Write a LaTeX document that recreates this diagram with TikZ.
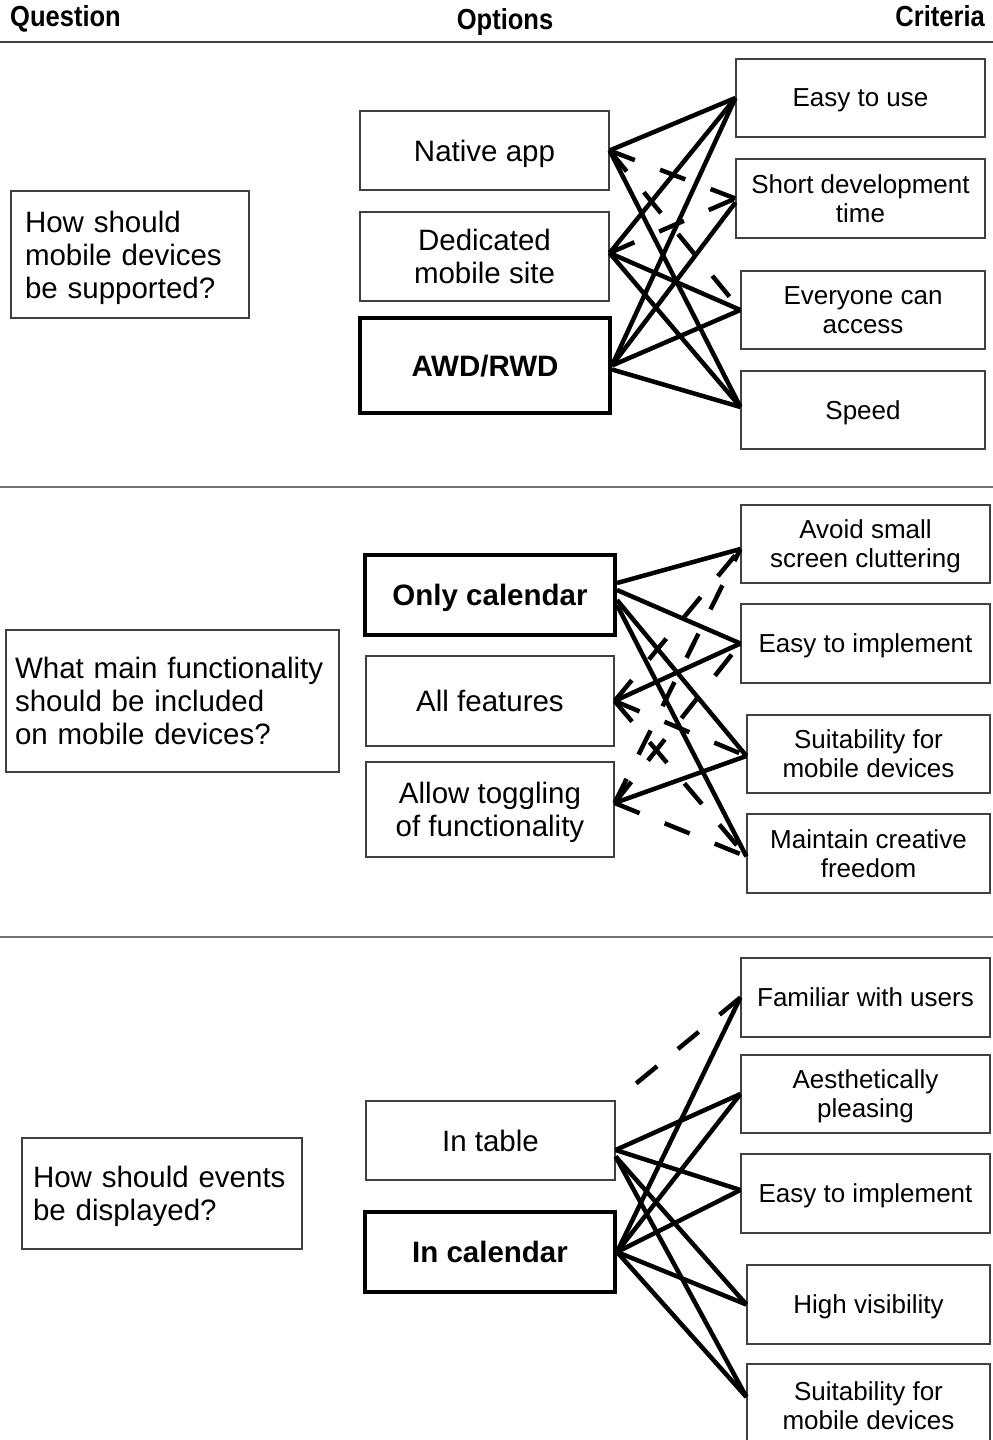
\documentclass[tikz,border=0pt]{standalone}
\usepackage{fontspec}
\usepackage{graphicx}
\setmainfont{Liberation Sans}
\begin{document}
\begin{tikzpicture}[x=1pt,y=-1pt,
  frame/.style={draw=black!75, line width=1.2pt, inner sep=0pt,
    font=\fontsize{29.5}{33}\selectfont},
  box/.style={frame, align=center, text depth=0pt},
  crit/.style={box, font=\fontsize{26}{29}\selectfont},
  pick/.style={box, draw=black, line width=4pt, font=\fontsize{29.5}{33}\selectfont\bfseries},
  quest/.style={frame, align=left},
  head/.style={inner sep=0pt, font=\fontsize{29}{33}\selectfont\bfseries},
  rule/.style={line width=1.2pt, draw=black!55},
  pluslink/.style={line width=4.5pt},
  minuslink/.style={line width=4.5pt, dash pattern=on 27pt off 27pt}
]
\useasboundingbox (0,0) rectangle (993,1440);

% column headings and section rules
\node[head, anchor=base west] (hq) at (10,26) {\scalebox{0.88}[1]{Question}};
\node[head, anchor=base] (ho) at (505,29) {\scalebox{0.88}[1]{Options}};
\node[head, anchor=base east] (hc) at (985,26) {\scalebox{0.88}[1]{Criteria}};
\draw[line width=1.4pt, black!75] (0,42) -- (993,42);
\draw[rule] (0,487) -- (993,487);
\draw[rule] (0,937) -- (993,937);

% ---------- first question ----------
\node[quest, inner xsep=14pt, text width=210pt, minimum height=127pt] (q1) at (130,254.5)
  {How should\\mobile devices\\be \smash{supported?}};
\node[box, minimum width=249pt, minimum height=79pt] (nat) at (484.5,150.5) {Native app};
\node[box, minimum width=249pt, minimum height=89pt] (ded) at (484.5,256.5) {Dedicated\\mobile site};
\node[pick, minimum width=250pt, minimum height=95pt] (awd) at (485,365.5) {AWD/RWD};
\node[crit, minimum width=249pt, minimum height=78pt] (eu) at (860.5,98) {Easy to use};
\node[crit, minimum width=249pt, minimum height=79pt] (sdt) at (860.5,198.5) {Short development\\time};
\node[crit, minimum width=244pt, minimum height=78pt] (eca) at (863,310) {Everyone can\\access};
\node[crit, minimum width=244pt, minimum height=78pt] (spd) at (863,410) {Speed};

\draw[pluslink] (nat.east) -- (eu.west);
\draw[minuslink] (nat.east) -- (sdt.west);
\draw[minuslink] (nat.east) -- (eca.west);
\draw[pluslink] (nat.east) -- ([yshift=3pt]spd.west);
\draw[pluslink] ([yshift=3.5pt]ded.east) -- (eu.west);
\draw[minuslink] ([yshift=3.5pt]ded.east) -- (sdt.west);
\draw[pluslink] ([yshift=3.5pt]ded.east) -- (eca.west);
\draw[pluslink] ([yshift=3.5pt]ded.east) -- ([yshift=3pt]spd.west);
\draw[pluslink] (awd.east) -- (eu.west);
\draw[pluslink] (awd.east) -- ([yshift=-4pt]sdt.west);
\draw[pluslink] (awd.east) -- (eca.west);
\draw[pluslink] ([yshift=-4pt]awd.east) -- ([yshift=3pt]spd.west);

% ---------- second question ----------
\node[quest, inner xsep=9pt, text width=315pt, minimum height=142pt] (q2) at (172.5,701)
  {What main functionality\\should be included\\on mobile devices?};
\node[pick, minimum width=250pt, minimum height=80pt] (oc) at (490,595) {Only calendar};
\node[box, minimum width=248pt, minimum height=90pt] (af) at (490,701) {All features};
\node[box, minimum width=248pt, minimum height=95pt] (at) at (490,809.5) {Allow toggling\\of functionality};
\node[crit, minimum width=249pt, minimum height=78pt] (av) at (865.5,544) {Avoid small\\screen cluttering};
\node[crit, minimum width=249pt, minimum height=79pt] (ei) at (865.5,643.5) {Easy to implement};
\node[crit, minimum width=243pt, minimum height=78pt] (sm) at (868.5,754) {Suitability for\\mobile devices};
\node[crit, minimum width=243pt, minimum height=79pt] (mc) at (868.5,853.5) {Maintain creative\\freedom};

\draw[pluslink] ([yshift=12pt]oc.east) -- ([yshift=-5pt]av.west);
\draw[pluslink] ([yshift=5pt]oc.east) -- (ei.west);
\draw[pluslink] ([yshift=-5pt]oc.east) -- ([yshift=-2pt]sm.west);
\draw[pluslink] ([yshift=-10pt]oc.east) -- ([yshift=-3pt]mc.west);
\draw[minuslink] (af.east) -- ([yshift=-5pt]av.west);
\draw[pluslink] (af.east) -- (ei.west);
\draw[minuslink] (af.east) -- ([yshift=-2pt]sm.west);
\draw[minuslink] (af.east) -- ([yshift=-3pt]mc.west);
\draw[minuslink] ([yshift=6.5pt]at.east) -- ([yshift=-5pt]av.west);
\draw[minuslink] ([yshift=6.5pt]at.east) -- (ei.west);
\draw[pluslink] ([yshift=6.5pt]at.east) -- ([yshift=-2pt]sm.west);
\draw[minuslink] ([yshift=6.5pt]at.east) -- ([yshift=-3pt]mc.west);

% ---------- third question ----------
\node[quest, inner xsep=11pt, text width=258pt, minimum height=111pt] (q3) at (162,1193.5)
  {How should events\\be \smash{displayed?}};
\node[box, minimum width=249pt, minimum height=79pt] (it) at (490.5,1140.5) {In table};
\node[pick, minimum width=250pt, minimum height=80pt] (ic) at (490,1252) {In calendar};
\node[crit, minimum width=249pt, minimum height=79pt] (fu) at (865.5,997.5) {Familiar with users};
\node[crit, minimum width=249pt, minimum height=78pt] (ap) at (865.5,1094) {Aesthetically\\pleasing};
\node[crit, minimum width=249pt, minimum height=79pt] (ei2) at (865.5,1193.5) {Easy to implement};
\node[crit, minimum width=243pt, minimum height=79pt] (hv) at (868.5,1304.5) {High visibility};
\node[crit, minimum width=243pt, minimum height=83pt] (sm2) at (868.5,1405.5) {Suitability for\\mobile devices};

\draw[minuslink] (fu.west) -- (it.north east);
\draw[pluslink] ([yshift=-9.5pt]it.east) -- (ap.west);
\draw[pluslink] ([yshift=-9.5pt]it.east) -- ([yshift=3.5pt]ei2.west);
\draw[pluslink] ([yshift=-16pt]it.east) -- (hv.west);
\draw[pluslink] ([yshift=-16pt]it.east) -- ([yshift=8.5pt]sm2.west);
\draw[pluslink] (ic.east) -- (fu.west);
\draw[pluslink] (ic.east) -- (ap.west);
\draw[pluslink] (ic.east) -- ([yshift=3.5pt]ei2.west);
\draw[pluslink] (ic.east) -- (hv.west);
\draw[pluslink] (ic.east) -- ([yshift=8.5pt]sm2.west);
\end{tikzpicture}
\end{document}
